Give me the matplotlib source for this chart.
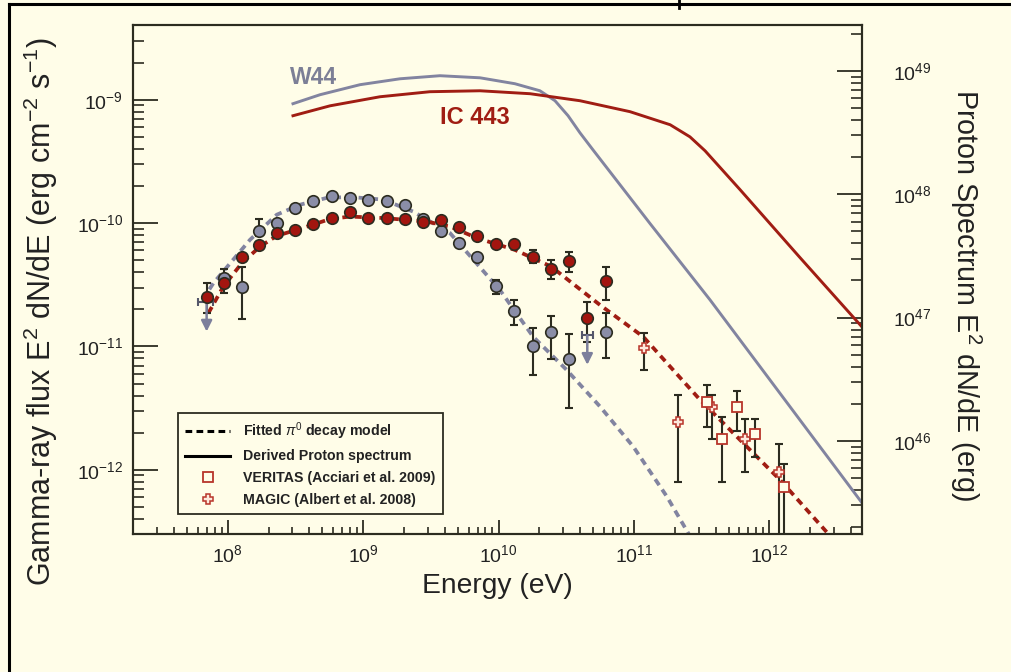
import matplotlib
matplotlib.use('Agg')
import matplotlib.pyplot as plt
import numpy as np
from matplotlib.lines import Line2D

plt.rcParams['font.family'] = ['Liberation Sans', 'DejaVu Sans']
plt.rcParams['mathtext.fontset'] = 'custom'
plt.rcParams['mathtext.rm'] = 'Liberation Sans'
plt.rcParams['mathtext.it'] = 'Liberation Sans:italic'
plt.rcParams['mathtext.bf'] = 'Liberation Sans:bold'

# ---------------- data ----------------
# W44 Fermi-LAT points (E in eV, E^2 dN/dE in erg cm^-2 s^-1)
w44_E = [9.38e7, 1.27e8, 1.71e8, 2.31e8, 3.16e8, 4.28e8, 5.85e8, 8.00e8, 1.09e9,
         1.49e9, 2.04e9, 2.77e9, 3.78e9, 5.13e9, 6.97e9, 9.53e9, 1.31e10, 1.79e10,
         2.44e10, 3.33e10, 6.18e10]
w44_F = [3.58e-11, 3.06e-11, 8.67e-11, 1.01e-10, 1.32e-10, 1.50e-10, 1.67e-10, 1.60e-10,
         1.55e-10, 1.52e-10, 1.41e-10, 1.09e-10, 8.61e-11, 6.89e-11, 5.36e-11, 3.10e-11,
         1.95e-11, 1.01e-11, 1.30e-11, 7.93e-12, 1.32e-11]
w44_lo = [2.70e-11, 1.66e-11, 7.80e-11, 1.01e-10, 1.32e-10, 1.50e-10, 1.67e-10, 1.60e-10,
          1.55e-10, 1.52e-10, 1.41e-10, 1.09e-10, 8.61e-11, 6.89e-11, 5.36e-11, 2.67e-11,
          1.50e-11, 5.89e-12, 7.89e-12, 3.18e-12, 8.04e-12]
w44_hi = [4.24e-11, 4.45e-11, 1.08e-10, 1.01e-10, 1.32e-10, 1.50e-10, 1.67e-10, 1.60e-10,
          1.55e-10, 1.52e-10, 1.41e-10, 1.09e-10, 8.61e-11, 6.89e-11, 5.36e-11, 3.47e-11,
          2.36e-11, 1.41e-11, 1.78e-11, 1.26e-11, 1.86e-11]
# W44 upper limits: energy, value, arrow tip, horizontal bar ends
w44_ul_E = [6.98e7, 4.52e10]
w44_ul_F = [2.31e-11, 1.23e-11]
w44_ul_tip = [1.32e-11, 7.10e-12]
w44_ul_Elo = [6.03e7, 4.11e10]
w44_ul_Ehi = [7.78e7, 5.00e10]

# IC 443 Fermi-LAT points
ic_E = [6.98e7, 9.38e7, 1.27e8, 1.71e8, 2.31e8, 3.16e8, 4.28e8, 5.85e8, 8.00e8, 1.09e9,
        1.49e9, 2.04e9, 2.77e9, 3.78e9, 5.13e9, 6.97e9, 9.53e9, 1.31e10, 1.79e10,
        2.44e10, 3.33e10, 4.52e10, 6.18e10]
ic_F = [2.54e-11, 3.30e-11, 5.30e-11, 6.59e-11, 8.30e-11, 8.83e-11, 9.82e-11, 1.10e-10,
        1.23e-10, 1.11e-10, 1.10e-10, 1.08e-10, 1.02e-10, 1.06e-10, 9.23e-11, 7.89e-11,
        6.76e-11, 6.76e-11, 5.36e-11, 4.26e-11, 4.94e-11, 1.70e-11, 3.40e-11]
ic_lo = [1.86e-11, 3.30e-11, 5.30e-11, 6.59e-11, 8.30e-11, 8.83e-11, 9.82e-11, 1.10e-10,
         1.23e-10, 1.11e-10, 1.10e-10, 1.08e-10, 1.02e-10, 1.06e-10, 9.23e-11, 7.89e-11,
         6.76e-11, 6.76e-11, 4.74e-11, 3.52e-11, 4.05e-11, 1.08e-11, 2.39e-11]
ic_hi = [3.26e-11, 3.30e-11, 5.30e-11, 6.59e-11, 8.30e-11, 8.83e-11, 9.82e-11, 1.10e-10,
         1.23e-10, 1.11e-10, 1.10e-10, 1.08e-10, 1.02e-10, 1.06e-10, 9.23e-11, 7.89e-11,
         6.76e-11, 6.76e-11, 6.04e-11, 5.01e-11, 5.81e-11, 2.29e-11, 4.37e-11]

# MAGIC (Albert et al. 2008)
magic_E = [1.19e11, 2.10e11, 3.77e11, 6.64e11, 1.18e12]
magic_F = [9.75e-12, 2.43e-12, 3.23e-12, 1.77e-12, 9.66e-13]
magic_lo = [6.46e-12, 8.02e-13, 1.77e-12, 9.66e-13, 2.0e-13]
magic_hi = [1.29e-11, 4.05e-12, 4.05e-12, 2.59e-12, 1.62e-12]

# VERITAS (Acciari et al. 2009)
ver_E = [3.48e11, 4.45e11, 5.79e11, 7.83e11, 1.28e12]
ver_F = [3.58e-12, 1.77e-12, 3.23e-12, 1.95e-12, 7.24e-13]
ver_lo = [2.24e-12, 8.02e-13, 2.08e-12, 1.28e-12, 2.0e-13]
ver_hi = [4.89e-12, 2.70e-12, 4.39e-12, 2.59e-12, 1.12e-12]

# Fitted pi0 decay models
w44_mod_E = [6.53e7, 7.82e7, 1.46e8, 2.30e8, 3.41e8, 5.37e8, 8.00e8, 1.41e9, 2.34e9,
             4.38e9, 1.02e10, 1.80e10, 3.18e10, 5.61e10, 9.89e10, 1.75e11, 2.52e11, 2.82e11]
w44_mod_F = [2.39e-11, 3.26e-11, 7.33e-11, 1.17e-10, 1.41e-10, 1.60e-10, 1.63e-10, 1.55e-10,
             1.24e-10, 8.30e-11, 2.88e-11, 1.20e-11, 6.46e-12, 3.26e-12, 1.54e-12, 6.07e-13,
             3.06e-13, 2.45e-13]
ic_mod_E = [7.18e7, 9.27e7, 1.27e8, 1.73e8, 2.30e8, 3.41e8, 5.70e8, 8.00e8, 1.41e9, 2.94e9,
            4.38e9, 6.97e9, 1.32e10, 2.44e10, 5.61e10, 1.17e11, 3.08e11, 6.07e11, 1.20e12,
            2.70e12, 3.16e12]
ic_mod_F = [1.86e-11, 3.06e-11, 4.74e-11, 6.46e-11, 7.89e-11, 8.99e-11, 1.08e-10, 1.13e-10,
            1.10e-10, 1.03e-10, 9.38e-11, 7.55e-11, 6.07e-11, 4.45e-11, 2.17e-11, 1.20e-11,
            3.69e-12, 1.75e-12, 8.28e-13, 3.06e-13, 2.51e-13]

# Derived proton spectra (E^2 dN/dE in erg, right axis)
w44_p_E = [3.03e8, 4.80e8, 9.48e8, 1.87e9, 3.69e9, 7.29e9, 1.32e10, 2.02e10, 2.61e10,
           3.26e10, 3.99e10, 4.98e10, 1.32e11, 3.65e11, 4.83e12]
w44_p_N = [5.42e48, 6.41e48, 7.73e48, 8.63e48, 9.14e48, 8.79e48, 7.87e48, 6.90e48, 5.73e48,
           4.33e48, 3.15e48, 2.29e48, 5.75e47, 1.39e47, 3.15e45]
ic_p_E = [3.03e8, 5.69e8, 1.33e9, 3.11e9, 7.28e9, 1.71e10, 3.99e10, 9.35e10, 1.85e11,
          2.59e11, 3.35e11, 6.07e11, 1.69e12, 4.83e12]
ic_p_N = [4.33e48, 5.21e48, 6.17e48, 6.78e48, 6.90e48, 6.53e48, 5.73e48, 4.67e48, 3.66e48,
          2.92e48, 2.25e48, 1.09e48, 3.05e47, 8.41e46]

legend_labels = [r'Fitted $\pi^0$ decay model', 'Derived Proton spectrum',
                 'VERITAS (Acciari et al. 2009)', 'MAGIC (Albert et al. 2008)']

# ---------------- styling ----------------
BG = '#fffde8'
DARK = '#2c2c20'
GREY = '#8a8da7'
GREY_LINE = '#8284a0'
RED = '#a3150f'
RED_LINE = '#a01d13'
RED_OPEN = '#b8352a'

W, H = 1012, 672
fig = plt.figure(figsize=(W / 100, H / 100), dpi=100, facecolor=BG)
L, R, T, B = 133, 862, 25, 534
ax = fig.add_axes([L / W, 1 - B / H, (R - L) / W, (B - T) / H])
ax.set_facecolor(BG)
ax.set_xscale('log')
ax.set_yscale('log')
ax.set_xlim(10 ** 7.300, 10 ** 12.684)
ax.set_ylim(10 ** -12.520, 10 ** -8.394)

ax2 = ax.twinx()
ax2.set_yscale('log')
ax2.set_ylim(10 ** 45.246, 10 ** 49.372)

for a in (ax, ax2):
    for s in a.spines.values():
        s.set_color(DARK)
        s.set_linewidth(1.5)

ax.tick_params(axis='y', which='major', direction='in', length=18, width=1.3, color=DARK,
               labelsize=14, pad=7, right=False, labelcolor='#222222')
ax.tick_params(axis='y', which='minor', direction='in', length=8, width=1.2, color=DARK, right=False)
ax.tick_params(axis='x', which='major', direction='in', length=10, width=1.3, color=DARK,
               labelsize=14, pad=7, top=False, labelcolor='#222222')
ax.tick_params(axis='x', which='minor', direction='in', length=5, width=1.2, color=DARK, top=False)
ax2.tick_params(axis='y', which='major', direction='in', length=18, width=1.3, color=DARK,
                labelsize=14, pad=22, left=False, labelcolor='#222222')
ax2.tick_params(axis='y', which='minor', direction='in', length=8, width=1.2, color=DARK, left=False)

# model curves
ax.plot(w44_mod_E, w44_mod_F, color=GREY_LINE, lw=2.7, ls=(0, (1.9, 1.4)), zorder=2)
ax.plot(ic_mod_E, ic_mod_F, color=RED_LINE, lw=2.7, ls=(0, (1.9, 1.4)), zorder=2)

# proton spectra
ax2.plot(w44_p_E, w44_p_N, color=GREY_LINE, lw=2.1, zorder=2)
ax2.plot(ic_p_E, ic_p_N, color=RED_LINE, lw=2.1, zorder=2)

# error bars
def errs(F, lo, hi):
    F = np.asarray(F); lo = np.asarray(lo); hi = np.asarray(hi)
    return [F - lo, hi - F]

ebkw = dict(fmt='none', ecolor=DARK, elinewidth=1.5, capsize=3, capthick=1.5, zorder=3)
ax.errorbar(w44_E, w44_F, yerr=errs(w44_F, w44_lo, w44_hi), **ebkw)
ax.errorbar(ic_E, ic_F, yerr=errs(ic_F, ic_lo, ic_hi), **ebkw)
ax.errorbar(magic_E, magic_F, yerr=errs(magic_F, magic_lo, magic_hi), **ebkw)
ax.errorbar(ver_E, ver_F, yerr=errs(ver_F, ver_lo, ver_hi), **ebkw)

# upper limits
for e, f, tip, elo, ehi in zip(w44_ul_E, w44_ul_F, w44_ul_tip, w44_ul_Elo, w44_ul_Ehi):
    ax.errorbar([e], [f], xerr=[[e - elo], [ehi - e]], fmt='none', ecolor='#55576a',
                elinewidth=1.5, capsize=3, capthick=1.5, zorder=3)
    ax.annotate('', xy=(e, tip), xytext=(e, f),
                arrowprops=dict(arrowstyle='-|>', color='#7c7f9c', lw=1.8,
                                mutation_scale=16, shrinkA=0, shrinkB=0), zorder=3)

# markers
ax.plot(w44_E, w44_F, 'o', ms=8.3, mfc=GREY, mec=DARK, mew=1.2, zorder=4)
ax.plot(ic_E, ic_F, 'o', ms=8.3, mfc=RED, mec=DARK, mew=1.2, zorder=5)
ax.plot(magic_E, magic_F, 'P', ms=7, mfc='#fde9dc', mec=RED_OPEN, mew=1.1, zorder=5)
ax.plot(ver_E, ver_F, 's', ms=7.5, mfc=BG, mec=RED_OPEN, mew=1.3, zorder=5)

# source labels
ax.text((314 - L) / (R - L), (B - 78) / (B - T), 'W44', transform=ax.transAxes,
        color='#7c7f96', fontsize=16.5, fontweight='bold', ha='center', va='center')
ax.text((475 - L) / (R - L), (B - 118) / (B - T), 'IC 443', transform=ax.transAxes,
        color=RED_LINE, fontsize=17, fontweight='bold', ha='center', va='center')

# legend
handles = [Line2D([], [], color='black', lw=2.2, ls=(0, (2.2, 1.4))),
           Line2D([], [], color='black', lw=2.2),
           Line2D([], [], ls='none', marker='s', ms=7, mfc=BG, mec=RED_OPEN, mew=1.3),
           Line2D([], [], ls='none', marker='P', ms=7, mfc='#fde9dc', mec=RED_OPEN, mew=1.1)]
leg = ax.legend(handles, legend_labels, loc='upper left',
                bbox_to_anchor=((178 - L) / (R - L), (B - 413) / (B - T)),
                borderaxespad=0, frameon=True, fancybox=False, framealpha=1,
                facecolor=BG, edgecolor=DARK, prop=dict(weight='bold', size=10.2),
                handlelength=3.2, handletextpad=0.9, labelspacing=0.55, borderpad=0.5,
                numpoints=1)
leg.get_frame().set_linewidth(1.3)
for t in leg.get_texts():
    t.set_color('#222222')

# axis labels
fig.text(41 / W, 1 - 312 / H, r'Gamma-ray flux E$^2$ dN/dE (erg cm$^{-2}$ s$^{-1}$)',
         rotation=90, ha='center', va='center', fontsize=22, color='#222222')
fig.text(497 / W, 1 - 586 / H, 'Energy (eV)', ha='center', va='center', fontsize=20.3,
         color='#222222')
fig.text(966 / W, 1 - 295 / H, r'Proton Spectrum E$^2$ dN/dE (erg)', rotation=-90,
         ha='center', va='center', fontsize=20.7, color='#222222')

# outer frame remnants (top and left border, small mark at top)
fig.add_artist(Line2D([8.5 / W, 1], [1 - 4 / H, 1 - 4 / H], color='black', lw=2.2,
                      transform=fig.transFigure))
fig.add_artist(Line2D([8.5 / W, 8.5 / W], [0, 1 - 4 / H], color='black', lw=2.2,
                      transform=fig.transFigure))
fig.add_artist(Line2D([679 / W, 679 / W], [1, 1 - 8 / H], color='black', lw=2.0,
                      transform=fig.transFigure))

fig.savefig('out.png', dpi=100, facecolor=BG)
